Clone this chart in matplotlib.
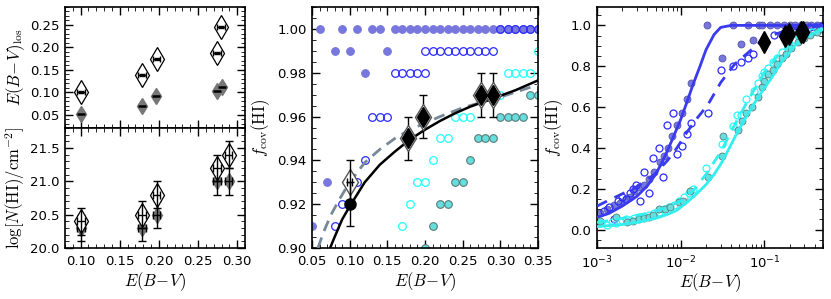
import numpy as np
import matplotlib
matplotlib.use('Agg')
import matplotlib.pyplot as plt
from matplotlib.ticker import MultipleLocator, LogLocator, NullFormatter, FixedLocator

# ---------------- data: left panel ----------------
ebv_open_top = [0.100, 0.178, 0.197, 0.274, 0.279]
ebvlos_open = [0.100, 0.138, 0.174, 0.187, 0.245]
ebv_fill_top = [0.100, 0.178, 0.196, 0.274, 0.281]
ebvlos_fill = [0.052, 0.068, 0.091, 0.102, 0.112]

ebv_open_bot = [0.100, 0.178, 0.197, 0.274, 0.289]
lognhi_open = [20.4, 20.5, 20.8, 21.2, 21.4]
ebv_fill_bot = [0.100, 0.178, 0.197, 0.274, 0.289]
lognhi_fill = [20.3, 20.3, 20.5, 21.0, 21.0]

# ---------------- data: middle panel ----------------
mb_fill_x = [0.06, 0.09, 0.11, 0.13, 0.14, 0.16, 0.17, 0.18, 0.19, 0.20, 0.21, 0.22, 0.23,
             0.24, 0.25, 0.26, 0.27, 0.28, 0.29, 0.30, 0.31, 0.32, 0.33, 0.34, 0.35,
             0.08, 0.10, 0.15, 0.12, 0.07, 0.10, 0.05]
mb_fill_y = [1.00] * 25 + [0.99, 0.99, 0.99, 0.98, 0.93, 0.92, 0.91]

mb_open_x = [0.30, 0.31, 0.32, 0.33, 0.34, 0.35,
             0.20, 0.21, 0.22, 0.23, 0.24, 0.25, 0.26, 0.27, 0.28, 0.29,
             0.16, 0.17, 0.18, 0.19, 0.20,
             0.13, 0.14, 0.15, 0.12, 0.11, 0.09, 0.08]
mb_open_y = [1.00] * 6 + [0.99] * 10 + [0.98] * 5 + [0.96, 0.96, 0.96, 0.94, 0.93, 0.92, 0.91]

mc_open_x = [0.35, 0.31, 0.32, 0.33, 0.34, 0.30, 0.24, 0.25, 0.26, 0.22, 0.23, 0.21,
             0.19, 0.20, 0.18, 0.17]
mc_open_y = [0.99, 0.98, 0.98, 0.98, 0.98, 0.97, 0.96, 0.96, 0.96, 0.95, 0.95, 0.94,
             0.93, 0.93, 0.92, 0.91]

mc_fill_x = [0.34, 0.35, 0.30, 0.31, 0.32, 0.33, 0.27, 0.28, 0.29, 0.26, 0.24, 0.25,
             0.22, 0.23, 0.21, 0.20]
mc_fill_y = [0.97, 0.97, 0.96, 0.96, 0.96, 0.96, 0.95, 0.95, 0.95, 0.94, 0.93, 0.93,
             0.92, 0.92, 0.91, 0.90]

obs_x = [0.178, 0.197, 0.274, 0.290]
obs_f = [0.95, 0.96, 0.97, 0.97]
obs_ferr = [0.01, 0.01, 0.01, 0.01]
low_x = [0.10]
low_open_f = [0.93]
low_fill_f = [0.92]

fit_solid_x = [0.074, 0.08, 0.09, 0.10, 0.12, 0.14, 0.16, 0.18, 0.20, 0.22, 0.24, 0.26,
               0.28, 0.30, 0.32, 0.35]
fit_solid_f = [0.900, 0.905, 0.913, 0.919, 0.930, 0.938, 0.944, 0.9495, 0.954, 0.958,
               0.9615, 0.9645, 0.967, 0.9695, 0.972, 0.9765]
fit_dash_x = [0.058, 0.065, 0.075, 0.086, 0.10, 0.12, 0.14, 0.16, 0.18, 0.20, 0.22,
              0.25, 0.28, 0.31, 0.35]
fit_dash_f = [0.900, 0.907, 0.915, 0.922, 0.930, 0.939, 0.945, 0.950, 0.954, 0.957,
              0.960, 0.964, 0.967, 0.970, 0.9745]

# ---------------- data: right panel ----------------
rb_fill_x = [0.0011, 0.0013, 0.0016, 0.0019, 0.0022, 0.0025, 0.0028, 0.0032, 0.0036,
             0.0042, 0.0048, 0.0056, 0.0063, 0.0070, 0.0079, 0.0090, 0.0103, 0.0118,
             0.0132, 0.0206, 0.031, 0.042, 0.053, 0.064, 0.073, 0.085, 0.094, 0.116,
             0.143, 0.17, 0.20, 0.23, 0.27, 0.31, 0.36, 0.42, 0.49]
rb_fill_f = [0.08, 0.10, 0.12, 0.13, 0.15, 0.16, 0.19, 0.21, 0.22,
             0.25, 0.28, 0.33, 0.36, 0.40, 0.46, 0.51, 0.57, 0.64,
             0.72, 1.00, 0.84, 1.00, 0.91, 1.00, 0.93, 1.00, 1.00, 1.00,
             1.00, 1.00, 1.00, 1.00, 1.00, 1.00, 1.00, 1.00, 1.00]

rb_open_x = [0.0012, 0.0014, 0.0016, 0.0018, 0.0020, 0.0022, 0.0025, 0.0027, 0.0029,
             0.0033, 0.0036, 0.0042, 0.0047, 0.0055, 0.0062, 0.0069, 0.0081, 0.0091,
             0.0103, 0.0118, 0.0132, 0.0209, 0.030, 0.042, 0.053, 0.064, 0.073, 0.13,
             0.16, 0.19, 0.22, 0.26, 0.30, 0.35, 0.41, 0.48]
rb_open_f = [0.09, 0.11, 0.05, 0.14, 0.16, 0.15, 0.18, 0.20, 0.22,
             0.14, 0.28, 0.18, 0.35, 0.40, 0.26, 0.51, 0.57, 0.37,
             0.41, 0.47, 0.52, 0.57, 0.78, 0.80, 0.82, 0.84, 0.86, 0.955,
             0.96, 0.97, 0.975, 0.98, 0.985, 0.99, 0.99, 0.995]

rc_open_x = [0.0011, 0.0013, 0.0015, 0.0017, 0.0019, 0.0022, 0.0025, 0.0028, 0.0032,
             0.0036, 0.0042, 0.0048, 0.0055, 0.0063, 0.0072, 0.0082, 0.0095, 0.011,
             0.0125, 0.014, 0.020, 0.031, 0.042, 0.047, 0.053, 0.061, 0.075, 0.083,
             0.093, 0.10, 0.11, 0.125, 0.14, 0.16, 0.19, 0.22, 0.26, 0.31, 0.37,
             0.43, 0.49]
rc_open_f = [0.03, 0.025, 0.035, 0.03, 0.04, 0.05, 0.045, 0.055, 0.06,
             0.06, 0.07, 0.08, 0.085, 0.10, 0.11, 0.12, 0.14, 0.16,
             0.18, 0.20, 0.30, 0.42, 0.505, 0.56, 0.56, 0.64, 0.68, 0.72,
             0.75, 0.77, 0.79, 0.82, 0.84, 0.87, 0.90, 0.93, 0.95, 0.96, 0.97,
             0.98, 0.985]

rc_fill_x = [0.0011, 0.0017, 0.0023, 0.0027, 0.0032, 0.0036, 0.0042, 0.0047, 0.0055,
             0.0064, 0.0075, 0.0096, 0.0105, 0.013, 0.0209, 0.031, 0.0316, 0.048,
             0.054, 0.061, 0.070, 0.084, 0.093, 0.10, 0.11, 0.125, 0.14, 0.16, 0.18,
             0.21, 0.25, 0.30, 0.35, 0.42, 0.49]
rc_fill_f = [0.04, 0.06, 0.035, 0.04, 0.05, 0.055, 0.06, 0.07, 0.10,
             0.10, 0.11, 0.135, 0.14, 0.19, 0.26, 0.36, 0.46, 0.49,
             0.53, 0.57, 0.60, 0.65, 0.70, 0.73, 0.76, 0.78, 0.81, 0.84, 0.86,
             0.89, 0.92, 0.94, 0.955, 0.97, 0.98]

rb_solid_x = [0.001, 0.0014, 0.002, 0.003, 0.004, 0.005, 0.006, 0.007, 0.008, 0.009,
              0.010, 0.012, 0.014, 0.017, 0.020, 0.025, 0.030, 0.040, 0.060, 0.5]
rb_solid_f = [0.06, 0.08, 0.115, 0.163, 0.215, 0.27, 0.33, 0.39, 0.445, 0.495,
              0.54, 0.63, 0.71, 0.80, 0.88, 0.955, 0.99, 1.0, 1.0, 1.0]
rb_dash_x = [0.001, 0.0014, 0.002, 0.003, 0.004, 0.005, 0.007, 0.009, 0.012, 0.016,
             0.021, 0.030, 0.044, 0.063, 0.090, 0.13, 0.20, 0.30, 0.5]
rb_dash_f = [0.115, 0.145, 0.175, 0.21, 0.245, 0.275, 0.34, 0.40, 0.48, 0.55,
             0.61, 0.72, 0.81, 0.865, 0.92, 0.955, 0.98, 0.99, 0.997]
rc_solid_x = [0.001, 0.002, 0.003, 0.005, 0.007, 0.009, 0.012, 0.015, 0.020, 0.025,
              0.030, 0.037, 0.048, 0.060, 0.076, 0.095, 0.12, 0.16, 0.23, 0.30, 0.40, 0.5]
rc_solid_f = [0.015, 0.025, 0.035, 0.055, 0.075, 0.095, 0.135, 0.17, 0.22, 0.27,
              0.32, 0.39, 0.48, 0.55, 0.62, 0.68, 0.74, 0.82, 0.90, 0.94, 0.965, 0.98]
rc_dash_x = [0.001, 0.002, 0.004, 0.007, 0.010, 0.014, 0.020, 0.030, 0.045, 0.065,
             0.10, 0.15, 0.22, 0.32, 0.5]
rc_dash_f = [0.035, 0.055, 0.08, 0.11, 0.14, 0.19, 0.27, 0.38, 0.52, 0.64,
             0.77, 0.86, 0.92, 0.96, 0.985]

# ---------------- style ----------------
plt.rcParams.update({
    'font.family': ['DejaVu Sans'],
    'mathtext.fontset': 'cm',
    'xtick.direction': 'in', 'ytick.direction': 'in',
    'xtick.top': True, 'ytick.right': True,
    'xtick.major.size': 6, 'ytick.major.size': 6,
    'xtick.minor.size': 3, 'ytick.minor.size': 3,
    'xtick.major.width': 1.0, 'ytick.major.width': 1.0,
    'xtick.labelsize': 9.5, 'ytick.labelsize': 9.5,
    'xtick.major.pad': 5, 'ytick.major.pad': 4,
    'axes.linewidth': 1.2,
    'axes.labelsize': 12,
})

C_BF = '#7777dd'   # blue filled
C_BO = '#2b2bff'   # blue open
C_BL = '#3a3aee'   # blue lines
C_CO = '#22ffff'   # cyan open
C_CF = '#66dede'   # cyan filled
C_CL = '#33eeee'   # cyan lines
C_GR = '#778899'

fig = plt.figure(figsize=(8.31, 2.99), dpi=100)
W, H = 831.0, 299.0

def ax_px(x0, y0, x1, y1):
    return fig.add_axes([x0 / W, 1 - y1 / H, (x1 - x0) / W, (y1 - y0) / H])

XLAB = r'$E(B\!-\!V)$'
FLAB = r'$f_{\rm cov}({\rm HI})$'

# ---------------- left top ----------------
axt = ax_px(65, 7, 245, 128)
axt.plot(ebv_open_top, ebvlos_open, 'd', ms=12, mfc='white', mec='black', mew=0.9, zorder=3)
axt.errorbar(ebv_open_top, ebvlos_open, xerr=0.005, yerr=0.002, fmt='none',
             ecolor='black', elinewidth=1.0, capsize=2, zorder=4)
axt.plot(ebv_fill_top, ebvlos_fill, 'd', ms=8, mfc='#777777', mec='#777777', zorder=3)
axt.errorbar(ebv_fill_top, ebvlos_fill, xerr=0.005, fmt='none', ecolor='black',
             elinewidth=1.8, capsize=0, zorder=4)
axt.set_xlim(0.08, 0.31)
axt.set_ylim(0.02, 0.29)
axt.xaxis.set_major_locator(MultipleLocator(0.05))
axt.xaxis.set_minor_locator(MultipleLocator(0.01))
axt.yaxis.set_major_locator(FixedLocator([0.05, 0.10, 0.15, 0.20, 0.25]))
axt.yaxis.set_minor_locator(MultipleLocator(0.01))
axt.set_xticklabels([])
axt.yaxis.set_major_formatter(plt.FormatStrFormatter('%.2f'))
axt.set_ylabel(r'$E(B\!-\!V)_{\rm los}$', labelpad=2)

# ---------------- left bottom ----------------
axb = ax_px(65, 128, 245, 248)
axb.plot(ebv_open_bot, lognhi_open, 'd', ms=12, mfc='white', mec='black', mew=0.9, zorder=3)
axb.errorbar(ebv_open_bot, lognhi_open, xerr=0.005, yerr=0.2, fmt='none',
             ecolor='black', elinewidth=1.0, capsize=3, zorder=4)
axb.plot(ebv_fill_bot, lognhi_fill, 'd', ms=8, mfc='#777777', mec='#777777', zorder=2)
axb.errorbar(ebv_fill_bot, lognhi_fill, xerr=0.005, yerr=0.2, fmt='none',
             ecolor='black', elinewidth=1.0, capsize=3, zorder=2.5)
axb.set_xlim(0.08, 0.31)
axb.set_ylim(20.0, 21.8)
axb.xaxis.set_major_locator(MultipleLocator(0.05))
axb.xaxis.set_minor_locator(MultipleLocator(0.01))
axb.yaxis.set_major_locator(FixedLocator([20.0, 20.5, 21.0, 21.5]))
axb.yaxis.set_minor_locator(MultipleLocator(0.1))
axb.xaxis.set_major_formatter(plt.FormatStrFormatter('%.2f'))
axb.yaxis.set_major_formatter(plt.FormatStrFormatter('%.1f'))
axb.set_xlabel(XLAB, labelpad=2)
axb.set_ylabel(r'$\log[N({\rm HI})/{\rm cm}^{-2}]$', labelpad=2)

# ---------------- middle ----------------
axm = ax_px(312, 7, 538, 248)
ms_m = 5.5
axm.plot(mb_fill_x, mb_fill_y, 'o', ms=ms_m, mfc=C_BF, mec=C_BF, mew=0.8, zorder=2)
axm.plot(mb_open_x, mb_open_y, 'o', ms=ms_m, mfc='none', mec=C_BO, mew=0.9, zorder=2)
axm.plot(mc_open_x, mc_open_y, 'o', ms=ms_m, mfc='none', mec=C_CO, mew=0.9, zorder=2)
axm.plot(mc_fill_x, mc_fill_y, 'o', ms=ms_m, mfc=C_CF, mec='#5a7a7a', mew=0.8, zorder=2)
axm.plot(fit_dash_x, fit_dash_f, '--', color=C_GR, lw=2.0, dashes=(4, 2.5), zorder=3)
axm.plot(fit_solid_x, fit_solid_f, '-', color='black', lw=1.8, zorder=3)
axm.plot(low_x, low_open_f, 'd', ms=13, mfc='white', mec='#555555', mew=1.0, zorder=4)
axm.errorbar(low_x, low_open_f, yerr=0.01, xerr=0.003, fmt='none', ecolor='black',
             elinewidth=1.0, capsize=3, zorder=4.5)
axm.errorbar(low_x, low_fill_f, yerr=0.01, fmt='o', ms=8, mfc='black', mec='black',
             ecolor='black', elinewidth=1.0, capsize=3, zorder=5)
axm.errorbar(obs_x, obs_f, yerr=obs_ferr, fmt='d', ms=13, mfc='white', mec='#555555',
             mew=1.0, ecolor='black', elinewidth=1.0, capsize=3, zorder=4)
axm.plot(obs_x, obs_f, 'd', ms=10, mfc='black', mec='black', zorder=5)
axm.set_xlim(0.05, 0.35)
axm.set_ylim(0.90, 1.01)
axm.xaxis.set_major_locator(MultipleLocator(0.05))
axm.xaxis.set_minor_locator(MultipleLocator(0.01))
axm.yaxis.set_major_locator(FixedLocator([0.90, 0.92, 0.94, 0.96, 0.98, 1.00]))
axm.yaxis.set_minor_locator(MultipleLocator(0.005))
axm.xaxis.set_major_formatter(plt.FormatStrFormatter('%.2f'))
axm.yaxis.set_major_formatter(plt.FormatStrFormatter('%.2f'))
axm.set_xlabel(XLAB, labelpad=2)
axm.set_ylabel(FLAB, labelpad=4)

# ---------------- right ----------------
axr = ax_px(597, 7, 823, 248)
ms_r = 5
axr.plot(rb_fill_x, rb_fill_f, 'o', ms=ms_r, mfc=C_BF, mec='#5555aa', mew=0.6, zorder=2)
axr.plot(rb_open_x, rb_open_f, 'o', ms=ms_r, mfc='none', mec=C_BO, mew=0.9, zorder=2)
axr.plot(rc_open_x, rc_open_f, 'o', ms=ms_r, mfc='none', mec=C_CO, mew=0.9, zorder=2)
axr.plot(rc_fill_x, rc_fill_f, 'o', ms=ms_r, mfc=C_CF, mec='#5a7a7a', mew=0.6, zorder=2)
axr.plot(rb_solid_x, rb_solid_f, '-', color=C_BL, lw=2.0, zorder=3)
axr.plot(rb_dash_x, rb_dash_f, '--', color=C_BL, lw=2.0, dashes=(4, 3), zorder=3)
axr.plot(rc_solid_x, rc_solid_f, '-', color=C_CL, lw=2.0, zorder=3)
axr.plot(rc_dash_x, rc_dash_f, '--', color=C_CL, lw=2.0, dashes=(4, 3), zorder=3)
axr.plot([0.10] + obs_x, [0.92] + obs_f, 'd', ms=11, mfc='black', mec='black', zorder=5)
axr.set_xscale('log')
axr.set_xlim(1e-3, 0.5)
axr.set_ylim(-0.09, 1.09)
axr.xaxis.set_major_locator(LogLocator(base=10, numticks=10))
axr.xaxis.set_minor_locator(LogLocator(base=10, subs=np.arange(2, 10), numticks=20))
axr.xaxis.set_minor_formatter(NullFormatter())
axr.yaxis.set_major_locator(FixedLocator([0.0, 0.2, 0.4, 0.6, 0.8, 1.0]))
axr.yaxis.set_minor_locator(MultipleLocator(0.05))
axr.yaxis.set_major_formatter(plt.FormatStrFormatter('%.1f'))
axr.set_xlabel(XLAB, labelpad=0)
axr.set_ylabel(FLAB, labelpad=4)

for a in (axt, axb, axm, axr):
    a.tick_params(which='both', top=True, right=True)

fig.savefig('out.png', dpi=100)
